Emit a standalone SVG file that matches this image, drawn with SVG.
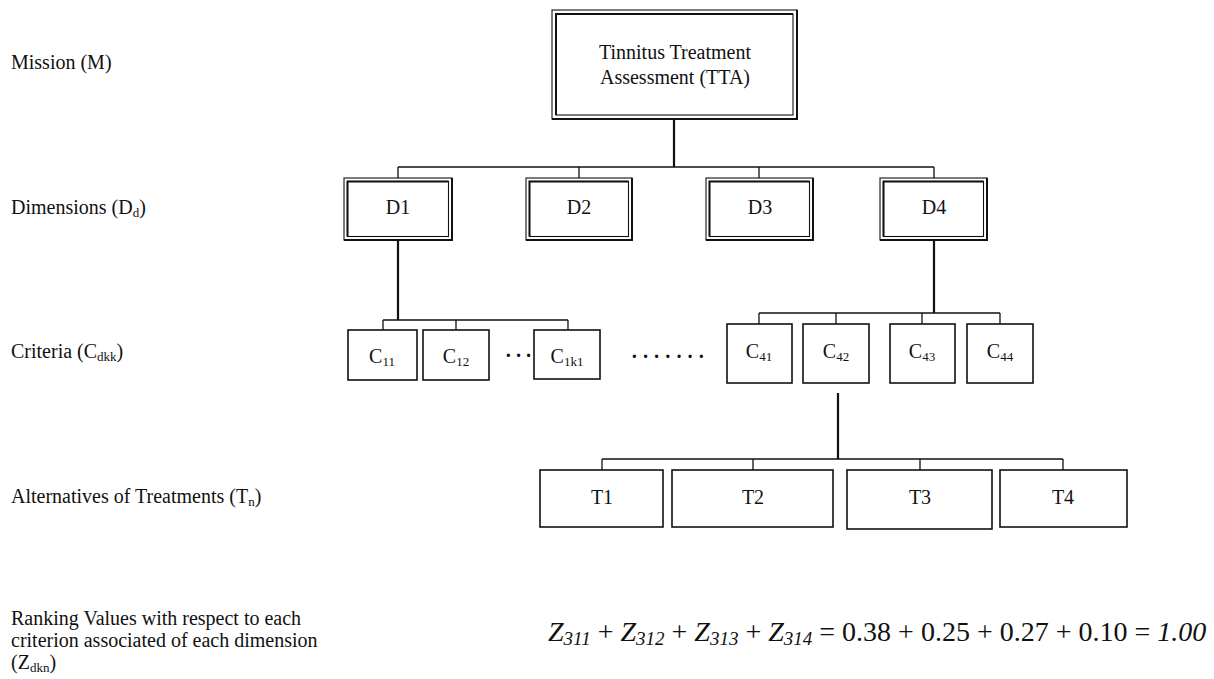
<svg xmlns="http://www.w3.org/2000/svg" width="1214" height="679" viewBox="0 0 1214 679">
<style>
text{font-family:"Liberation Serif","Times New Roman",serif;fill:#111;}
.lbl{font-size:20px;}
.ctr{font-size:20px;text-anchor:middle;}
.sub{font-size:13px;}
.box{fill:#fff;stroke:#111;stroke-width:1.6;}
.dbl{fill:none;stroke:#111;stroke-width:1.1;}
.hv{fill:none;stroke:#111;stroke-width:2;}
.thick{fill:none;stroke:#111;stroke-width:2.2;}
.bus{fill:none;stroke:#111;stroke-width:1.3;}
.dots{font-size:20px;font-weight:bold;}
</style>
<rect width="1214" height="679" fill="#fff"/>

<g id="connectors">
  <path class="thick" d="M674 119V167M398 240V320M934 240V313M838 393V459"/>
  <path class="bus" d="M398 167H934M398 167V178M579 167V178M759 167V178M934 167V178"/>
  <path class="bus" d="M383 320H568M383 320V330M456 320V330M568 320V330"/>
  <path class="bus" d="M759 313H1000M759 313V324M836 313V324M922 313V324M1000 313V324"/>
  <path class="bus" d="M602 459H1063M602 459V470M753 459V470M920 459V470M1063 459V470"/>
</g>

<g id="labels">
  <text class="lbl" x="11" y="69">Mission (M)</text>
  <text class="lbl" x="11" y="214">Dimensions (D<tspan class="sub" dy="3">d</tspan><tspan dy="-3">)</tspan></text>
  <text class="lbl" x="11" y="358">Criteria (C<tspan class="sub" font-size="11" dy="3">dkk</tspan><tspan dy="-3">)</tspan></text>
  <text class="lbl" x="11" y="503">Alternatives of Treatments (T<tspan class="sub" dy="3">n</tspan><tspan dy="-3">)</tspan></text>
  <text class="lbl" x="11" y="625">Ranking Values with respect to each</text>
  <text class="lbl" x="11" y="647">criterion associated of each dimension</text>
  <text class="lbl" x="11" y="669">(Z<tspan class="sub" dy="3">dkn</tspan><tspan dy="-3">)</tspan></text>
</g>

<g id="mission">
  <rect class="dbl" x="552" y="10" width="245" height="109"/>
  <rect class="dbl" x="556" y="14" width="237" height="101"/>
  <path class="hv" d="M556 115V14H793M552 119H797V10"/>
  <text class="ctr" x="675" y="59">Tinnitus Treatment</text>
  <text class="ctr" x="675" y="84">Assessment (TTA)</text>
</g>

<g id="D1">
  <rect class="dbl" x="344" y="178" width="108" height="62"/>
  <rect class="dbl" x="347.5" y="181.5" width="101" height="55"/>
  <path class="hv" d="M347.5 236.5V181.5H448.5M344 240H452V178"/>
  <text class="ctr" x="398" y="214">D1</text>
</g>
<g id="D2">
  <rect class="dbl" x="526" y="178" width="106" height="62"/>
  <rect class="dbl" x="529.5" y="181.5" width="99" height="55"/>
  <path class="hv" d="M529.5 236.5V181.5H628.5M526 240H632V178"/>
  <text class="ctr" x="579" y="214">D2</text>
</g>
<g id="D3">
  <rect class="dbl" x="706" y="178" width="107" height="62"/>
  <rect class="dbl" x="709.5" y="181.5" width="100" height="55"/>
  <path class="hv" d="M709.5 236.5V181.5H809.5M706 240H813V178"/>
  <text class="ctr" x="760" y="214">D3</text>
</g>
<g id="D4">
  <rect class="dbl" x="880" y="178" width="107" height="62"/>
  <rect class="dbl" x="883.5" y="181.5" width="100" height="55"/>
  <path class="hv" d="M883.5 236.5V181.5H983.5M880 240H987V178"/>
  <text class="ctr" x="934" y="214">D4</text>
</g>

<g id="C11">
  <rect class="box" x="348" y="330" width="69" height="50"/>
  <text class="ctr" x="382" y="363">C<tspan class="sub" dy="3">11</tspan></text>
</g>
<g id="C12">
  <rect class="box" x="423" y="330" width="66" height="50"/>
  <text class="ctr" x="456" y="363">C<tspan class="sub" dy="3">12</tspan></text>
</g>
<g id="C1k1">
  <rect class="box" x="534" y="330" width="66" height="49"/>
  <text class="ctr" x="567" y="363">C<tspan class="sub" font-size="11" dy="3">1k1</tspan></text>
</g>
<text class="dots" x="505" y="362" letter-spacing="3.5">···</text>
<text class="dots" x="631" y="363" letter-spacing="4.5">·······</text>

<g id="C41">
  <rect class="box" x="727" y="324" width="65" height="59"/>
  <text class="ctr" x="759" y="358">C<tspan class="sub" dy="3">41</tspan></text>
</g>
<g id="C42">
  <rect class="box" x="803" y="324" width="66" height="59"/>
  <text class="ctr" x="836" y="358">C<tspan class="sub" dy="3">42</tspan></text>
</g>
<g id="C43">
  <rect class="box" x="890" y="324" width="65" height="59"/>
  <text class="ctr" x="922" y="358">C<tspan class="sub" dy="3">43</tspan></text>
</g>
<g id="C44">
  <rect class="box" x="967" y="324" width="66" height="59"/>
  <text class="ctr" x="1000" y="358">C<tspan class="sub" dy="3">44</tspan></text>
</g>

<g id="T1">
  <rect class="box" x="540" y="470" width="123" height="57"/>
  <text class="ctr" x="602" y="504">T1</text>
</g>
<g id="T2">
  <rect class="box" x="672" y="470" width="161" height="57"/>
  <text class="ctr" x="753" y="504">T2</text>
</g>
<g id="T3">
  <rect class="box" x="847" y="470" width="145" height="59"/>
  <text class="ctr" x="920" y="504">T3</text>
</g>
<g id="T4">
  <rect class="box" x="1000" y="470" width="127" height="57"/>
  <text class="ctr" x="1063" y="504">T4</text>
</g>

<g id="equation">
  <text x="548" y="641" font-size="28"><tspan font-style="italic">Z</tspan><tspan font-style="italic" font-size="19" dy="4">311</tspan><tspan dy="-4"> + </tspan><tspan font-style="italic">Z</tspan><tspan font-style="italic" font-size="19" dy="4">312</tspan><tspan dy="-4"> + </tspan><tspan font-style="italic">Z</tspan><tspan font-style="italic" font-size="19" dy="4">313</tspan><tspan dy="-4"> + </tspan><tspan font-style="italic">Z</tspan><tspan font-style="italic" font-size="19" dy="4">314</tspan><tspan dy="-4"> = 0.38 + 0.25 + 0.27 + 0.10 = </tspan><tspan font-style="italic">1.00</tspan></text>
</g>
</svg>
